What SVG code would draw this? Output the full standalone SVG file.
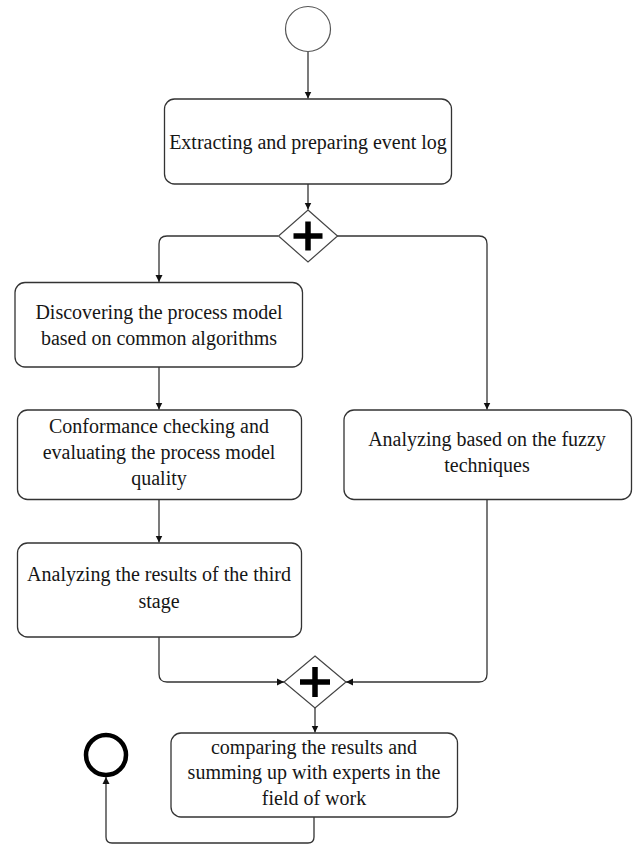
<svg xmlns="http://www.w3.org/2000/svg" width="634" height="846" viewBox="0 0 634 846">
<style>
.box{fill:#fff;stroke:#333;stroke-width:1.3}
.gw{fill:#fff;stroke:#444;stroke-width:1.2}
.plus{stroke:#000;stroke-width:5.5;fill:none}
.edge{fill:none;stroke:#333;stroke-width:1.3}
.lbl{font-family:"Liberation Serif","Times New Roman",serif;font-size:20px;fill:#161616;text-anchor:middle}
</style>
<defs>
<marker id="arr" viewBox="0 0 10 10" refX="10" refY="5" markerWidth="7" markerHeight="8" markerUnits="userSpaceOnUse" orient="auto">
<path d="M0,0 L10,5 L0,10 Z" fill="#111"/>
</marker>
</defs>
<rect width="634" height="846" fill="#fff"/>
<g id="connectors">
<path class="edge" d="M308,52 V98.5" marker-end="url(#arr)"/>
<path class="edge" d="M308,184 V209.5" marker-end="url(#arr)"/>
<path class="edge" d="M278,236 H167 Q159,236 159,244 V282" marker-end="url(#arr)"/>
<path class="edge" d="M337,236 H479 Q487,236 487,244 V409.5" marker-end="url(#arr)"/>
<path class="edge" d="M159,367 V409.5" marker-end="url(#arr)"/>
<path class="edge" d="M159,499.5 V542.5" marker-end="url(#arr)"/>
<path class="edge" d="M159,637 V674 Q159,682 167,682 H284" marker-end="url(#arr)"/>
<path class="edge" d="M487,499.5 V674 Q487,682 479,682 H346" marker-end="url(#arr)"/>
<path class="edge" d="M315,708 V732.5" marker-end="url(#arr)"/>
<path class="edge" d="M314,817 V837 Q314,843 308,843 H112 Q106,843 106,837 V777" marker-end="url(#arr)"/>
</g>
<g id="start">
<circle cx="308" cy="29" r="22.5" fill="#fff" stroke="#555" stroke-width="1.2"/>
</g>
<g id="extract">
<rect class="box" x="164.5" y="99" width="287" height="85" rx="10"/>
<text class="lbl" x="308" y="149">Extracting and preparing event log</text>
</g>
<g id="split">
<path class="gw" d="M308,210 L337.5,236 L308,262 L278.5,236 Z"/>
<path class="plus" d="M308,221.5 V250.5 M293.5,236 H322.5"/>
</g>
<g id="discover">
<rect class="box" x="15" y="282.5" width="287.5" height="84.5" rx="10"/>
<text class="lbl" x="159" y="319">Discovering the process model</text>
<text class="lbl" x="159" y="345">based on common algorithms</text>
</g>
<g id="conformance">
<rect class="box" x="17.5" y="410" width="284" height="89.5" rx="10"/>
<text class="lbl" x="159" y="433">Conformance checking and</text>
<text class="lbl" x="159" y="459">evaluating the process model</text>
<text class="lbl" x="159" y="485">quality</text>
</g>
<g id="fuzzy">
<rect class="box" x="344" y="410" width="287.5" height="89.5" rx="10"/>
<text class="lbl" x="487" y="446">Analyzing based on the fuzzy</text>
<text class="lbl" x="487" y="472">techniques</text>
</g>
<g id="results">
<rect class="box" x="17.5" y="543" width="284" height="94" rx="10"/>
<text class="lbl" x="159" y="581">Analyzing the results of the third</text>
<text class="lbl" x="159" y="608">stage</text>
</g>
<g id="join">
<path class="gw" d="M315,656 L346,682 L315,708 L284,682 Z"/>
<path class="plus" d="M315,667 V697 M300,682 H330"/>
</g>
<g id="compare">
<rect class="box" x="171" y="733" width="286.5" height="84" rx="10"/>
<text class="lbl" x="314" y="754">comparing the results and</text>
<text class="lbl" x="314" y="779">summing up with experts in the</text>
<text class="lbl" x="314" y="805">field of work</text>
</g>
<g id="end">
<circle cx="106" cy="755" r="20" fill="#fff" stroke="#000" stroke-width="4.5"/>
</g>
</svg>
